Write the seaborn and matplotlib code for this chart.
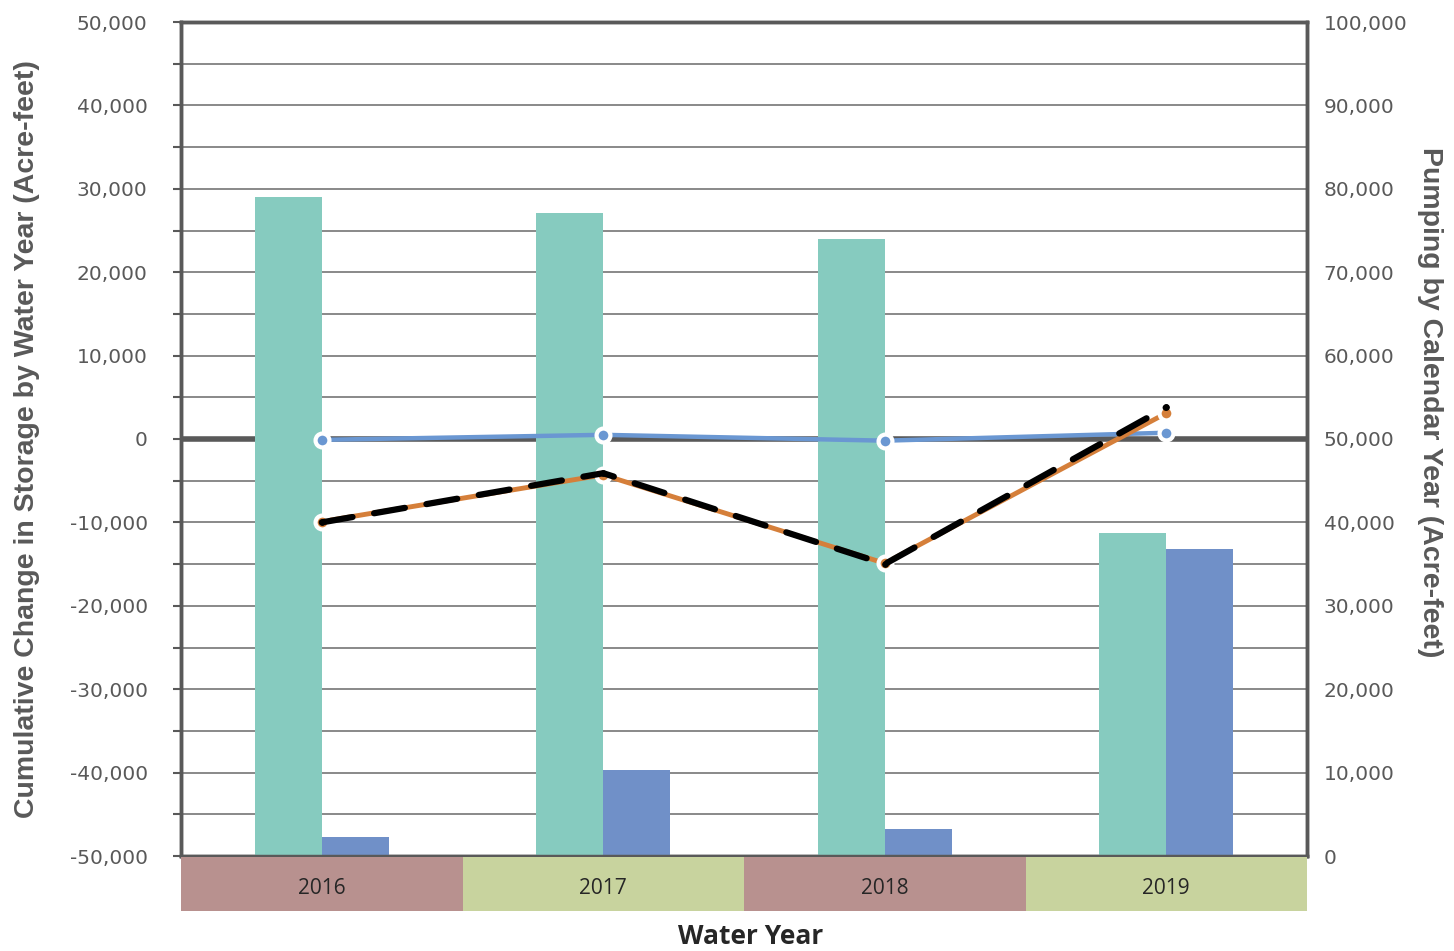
import numpy as np
import pandas as pd
import matplotlib
matplotlib.use("Agg")
import matplotlib.pyplot as plt
from matplotlib.ticker import MultipleLocator, FuncFormatter
import seaborn as sns

years = ["2016", "2017", "2018", "2019"]
pump_a = [79000, 77100, 74000, 38700]      # teal bars (right axis)
pump_b = [2300, 10300, 3200, 36800]        # blue bars (right axis)
storage_blue = [-100, 500, -200, 750]      # blue line (left axis)
storage_orange = [-9900, -4300, -14900, 3100]
storage_black = [-10000, -4100, -15000, 3800]
year_colors = ["#B8918F", "#C8D39E", "#B8918F", "#C8D39E"]

sns.set_style("white")
plt.rcParams["font.family"] = ["DejaVu Sans"]

GRAY = "#595959"
fmt = FuncFormatter(lambda v, p: f"{v:,.0f}")

fig = plt.figure(figsize=(14.54, 9.51), dpi=100)
ax = fig.add_axes([181/1454, 1 - 856/951, 1126/1454, 834/951])

bars = pd.DataFrame({
    "year": years * 2,
    "pumping": pump_a + pump_b,
    "series": ["a"] * 4 + ["b"] * 4,
})
sns.barplot(data=bars, x="year", y="pumping", hue="series", order=years,
            palette=["#86CBBF", "#7090C8"], width=0.475, saturation=1,
            linewidth=0, legend=False, ax=ax, zorder=3)
ax.set_xlim(-0.5, len(years) - 0.5)
ax.set_ylim(0, 100000)
ax.grid(True, axis="y", which="both", color="#808080", lw=1.3, zorder=0)
ax.set_axisbelow(True)
ax.axhline(50000, color=GRAY, lw=4, zorder=1)
ax.set_xlabel("")
ax.tick_params(axis="x", which="major", length=0, labelbottom=False)
ax.set_xticks(np.arange(len(years) + 1) - 0.5, minor=True)
ax.tick_params(axis="x", which="minor", length=5, width=1.5, color="black", direction="out")

# storage lines on the twin, shown on the left
tw = ax.twinx()
xpos = np.arange(len(years))
sns.lineplot(x=xpos, y=storage_blue, ax=tw, color="#6A97D2", lw=3.2, marker="o",
             markersize=10, markerfacecolor="#6A97D2", markeredgecolor="white",
             markeredgewidth=3, zorder=4)
sns.lineplot(x=xpos, y=storage_orange, ax=tw, color="#D57F3A", lw=3.5, marker="o",
             markersize=10, markerfacecolor="#D57F3A", markeredgecolor="white",
             markeredgewidth=3, zorder=5)
sns.lineplot(x=xpos, y=storage_black, ax=tw, color="black", lw=4.5, marker="o",
             markersize=4, markerfacecolor="black", markeredgecolor="black",
             dashes=(5, 3.5), dash_capstyle="round", zorder=6)
tw.set_xlim(-0.5, len(years) - 0.5)
tw.set_ylim(-50000, 50000)

# swap sides: pumping on the right, storage on the left
ax.yaxis.tick_right()
ax.yaxis.set_label_position("right")
tw.yaxis.tick_left()
tw.yaxis.set_label_position("left")

ax.yaxis.set_major_locator(MultipleLocator(10000))
ax.yaxis.set_minor_locator(MultipleLocator(5000))
ax.yaxis.set_major_formatter(fmt)
ax.tick_params(axis="y", which="both", left=False, right=False, length=0, pad=12,
               labelsize=14.5, labelcolor=GRAY, labelleft=False, labelright=True)
ax.set_ylabel("Pumping by Calendar Year (Acre-feet)", rotation=270, fontsize=20.5,
              fontweight="bold", color=GRAY, family="Liberation Sans")
ax.yaxis.set_label_coords(1.121, 0.544)

tw.yaxis.set_major_locator(MultipleLocator(10000))
tw.yaxis.set_minor_locator(MultipleLocator(5000))
tw.yaxis.set_major_formatter(fmt)
tw.tick_params(axis="y", which="both", left=True, right=False, length=6, width=1.5,
               color=GRAY, pad=18, labelsize=14.5, labelcolor=GRAY,
               labelleft=True, labelright=False)
tw.set_ylabel("Cumulative Change in Storage by Water Year (Acre-feet)", fontsize=20.5,
              fontweight="bold", color=GRAY, family="Liberation Sans")
tw.yaxis.set_label_coords(-0.125, 0.5)

for a in (ax, tw):
    for s in a.spines.values():
        s.set_color(GRAY)
        s.set_linewidth(2.5)
        s.set_visible(True)

# year boxes under the plot
cat = fig.add_axes([181/1454, 1 - 911/951, 1126/1454, 54/951])
for i, (y, c) in enumerate(zip(years, year_colors)):
    cat.axvspan(i - 0.5, i + 0.5, color=c, lw=0)
    cat.text(i, 0.42, y, ha="center", va="center", fontsize=15, family="Open Sans")
cat.set_xlim(-0.5, len(years) - 0.5)
cat.set_ylim(0, 1)
cat.axis("off")

fig.text(751/1454, 1 - 937/951, "Water Year", ha="center", va="center",
         fontsize=19, fontweight="bold", family="Open Sans")

fig.savefig("out.png", dpi=100)
